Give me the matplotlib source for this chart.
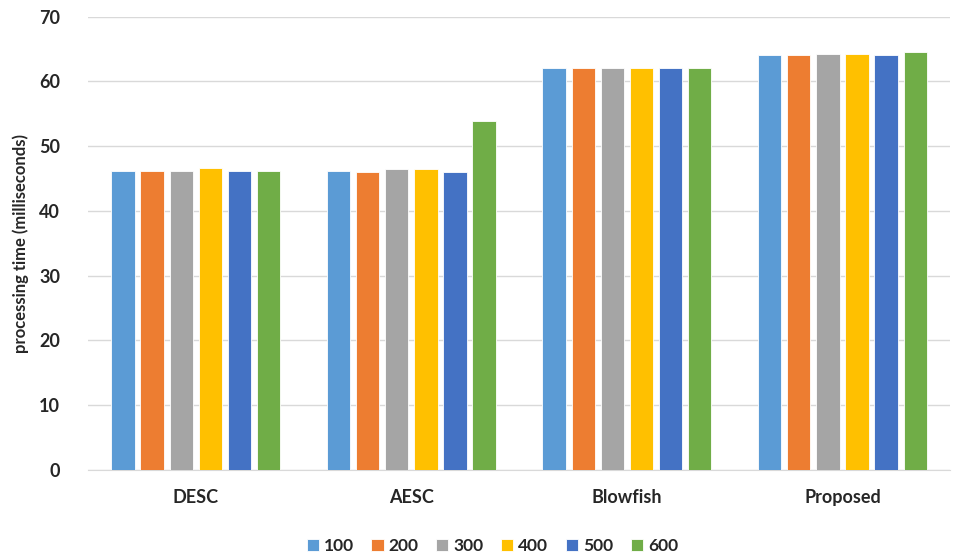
import numpy as np
import matplotlib
matplotlib.use("Agg")
import matplotlib.pyplot as plt

categories = ["DESC", "AESC", "Blowfish", "Proposed"]
series = ["100", "200", "300", "400", "500", "600"]
values = {
    "100": [46.2, 46.2, 62.1, 64.1],
    "200": [46.2, 46.0, 62.1, 64.1],
    "300": [46.2, 46.4, 62.1, 64.3],
    "400": [46.6, 46.4, 62.1, 64.3],
    "500": [46.2, 46.0, 62.1, 64.1],
    "600": [46.2, 53.9, 62.1, 64.5],
}
colors = ["#5B9BD5", "#ED7D31", "#A5A5A5", "#FFC000", "#4472C4", "#70AD47"]

plt.rcParams["font.family"] = ["Lato", "DejaVu Sans"]
plt.rcParams["font.weight"] = "bold"
text_color = "#262626"

fig = plt.figure(figsize=(9.56, 5.56), dpi=100)
ax = fig.add_axes([0.092, 0.155, 0.902, 0.815])

x = np.arange(len(categories))
pitch = 0.135
width = 0.108
for i, name in enumerate(series):
    offset = (i - (len(series) - 1) / 2) * pitch
    ax.bar(x + offset, values[name], width=width, color=colors[i],
           label=name, edgecolor="white", linewidth=0.6, zorder=3)

ax.set_xlim(-0.5, len(categories) - 0.5)
ax.set_ylim(0, 70)
ax.set_yticks(range(0, 71, 10))
ax.set_xticks(x)
ax.set_xticklabels(categories)
ax.tick_params(axis="both", length=0, labelsize=13, colors=text_color)
ax.tick_params(axis="x", pad=14)
ax.tick_params(axis="y", pad=20)
ax.grid(axis="y", color="#D9D9D9", linewidth=1, zorder=0)
for side in ["top", "right", "left"]:
    ax.spines[side].set_visible(False)
ax.spines["bottom"].set_color("#D9D9D9")
ax.set_ylabel("processing time (milliseconds)", fontsize=12, fontweight="bold",
              color=text_color, labelpad=7)

fig.legend(loc="center", bbox_to_anchor=(0.515, 0.018), ncol=6, frameon=False,
           fontsize=12.5, handlelength=0.7, handleheight=0.7, handletextpad=0.3,
           columnspacing=1.0, labelcolor=text_color)

fig.savefig("out.png", dpi=100)
